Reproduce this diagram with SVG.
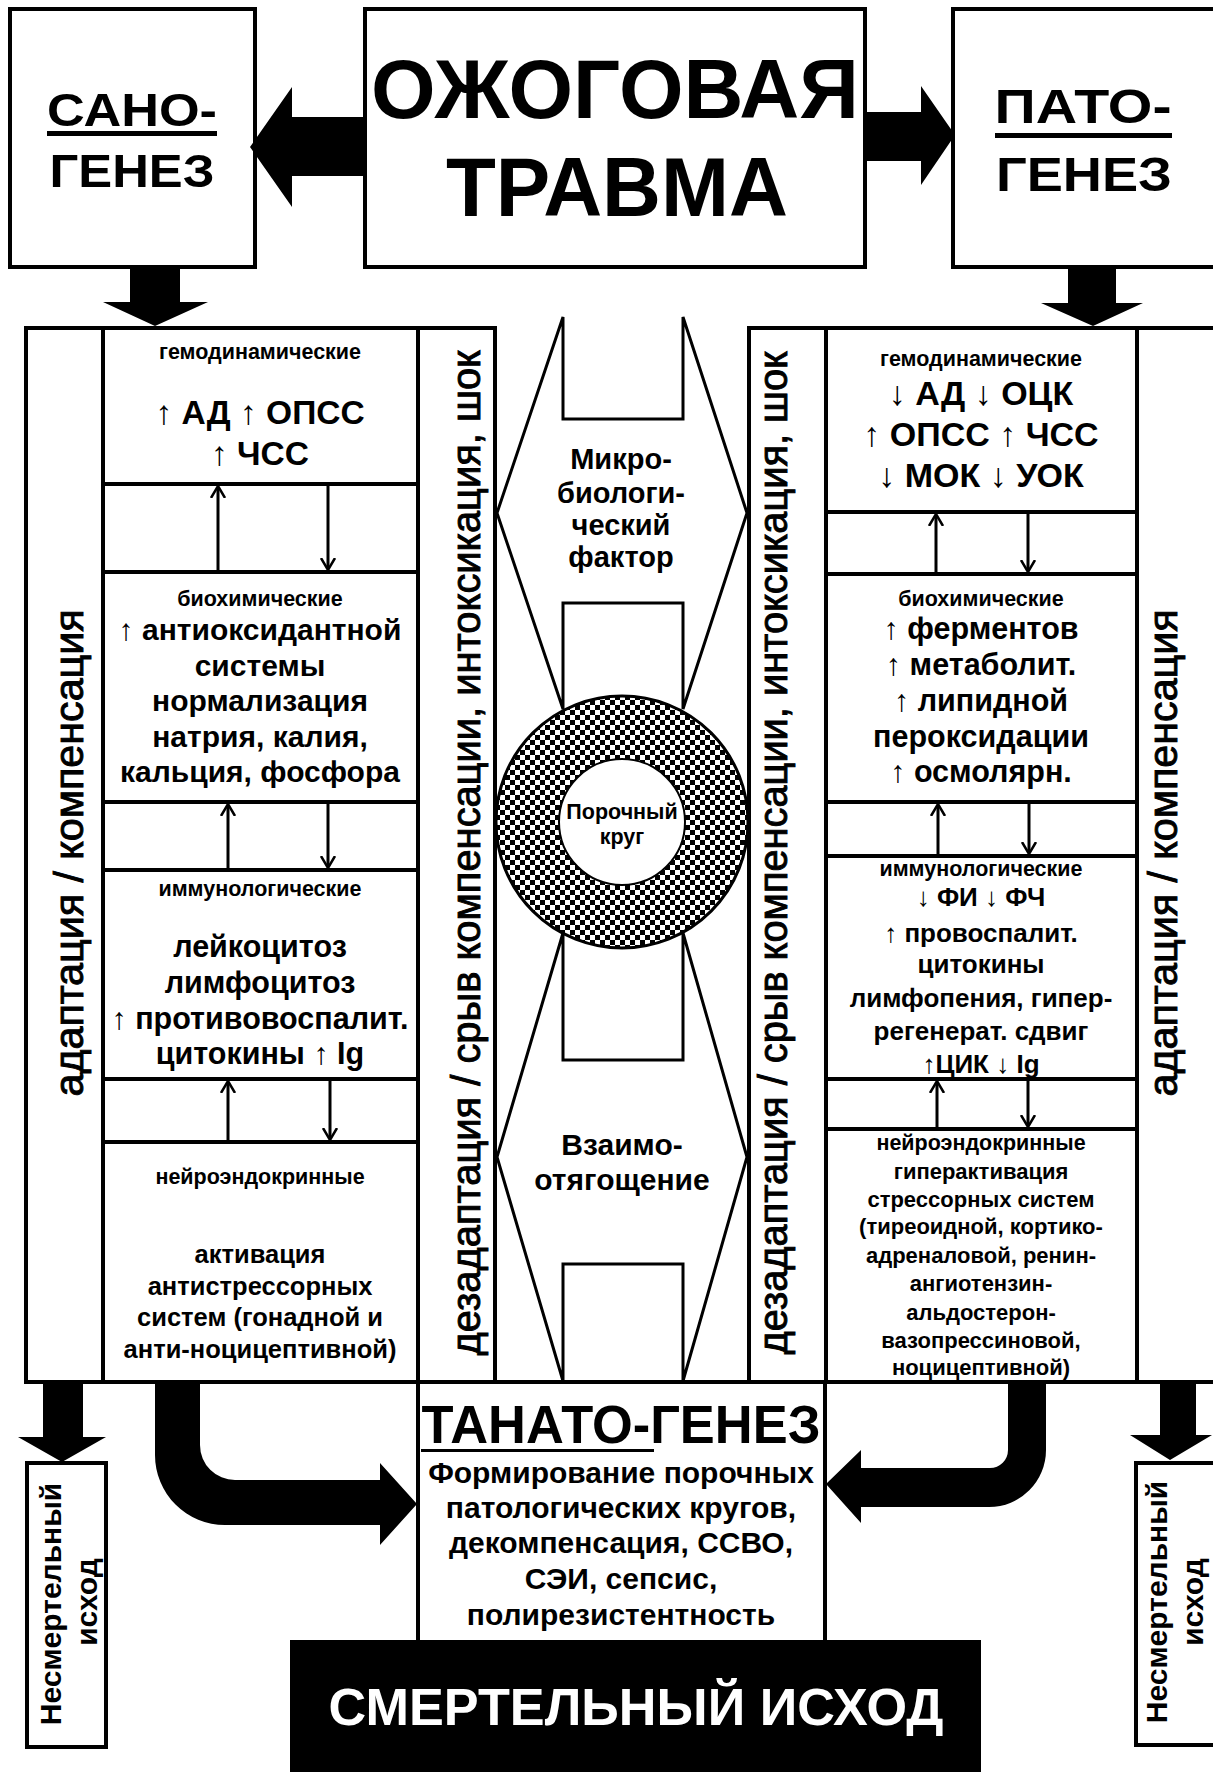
<svg xmlns="http://www.w3.org/2000/svg" width="1213" height="1772" viewBox="0 0 1213 1772">
<style>
text{font-family:"Liberation Sans",Arial,sans-serif;fill:#000;text-anchor:middle}
.b{font-weight:bold}
.lab{font-size:21.5px;font-weight:bold}
.box{fill:#fff;stroke:#000;stroke-width:4}
.ln{stroke:#000;stroke-width:4;fill:none}
.thin{stroke:#000;stroke-width:3;fill:none}
.ar{font-weight:normal}
.big{fill:#000}
.vt{font-size:40px;stroke:#000;stroke-width:0.9}
</style>
<defs>
<pattern id="chk" width="10" height="10" patternUnits="userSpaceOnUse">
<rect width="10" height="10" fill="#fff"/>
<rect width="5" height="5" fill="#000"/>
<rect x="5" y="5" width="5" height="5" fill="#000"/>
</pattern>
<marker id="ah" viewBox="0 0 12 20" refX="11" refY="10" markerWidth="12" markerHeight="20" markerUnits="userSpaceOnUse" orient="auto">
<path d="M0,3 L12,10 L0,17" fill="none" stroke="#000" stroke-width="2.5"/>
</marker>
</defs>
<rect width="1213" height="1772" fill="#fff"/>

<!-- top nodes -->
<g id="sanogenez">
<rect class="box" x="10" y="9" width="245" height="258"/>
<text class="b" x="132" y="126" font-size="47" textLength="170" lengthAdjust="spacingAndGlyphs">САНО-</text>
<rect x="47" y="131" width="170" height="5" fill="#000"/>
<text class="b" x="132" y="187" font-size="47" textLength="165" lengthAdjust="spacingAndGlyphs">ГЕНЕЗ</text>
</g>
<g id="trauma">
<rect class="box" x="365" y="9" width="500" height="258"/>
<text class="b" x="615" y="118" font-size="84" textLength="488" lengthAdjust="spacingAndGlyphs">ОЖОГОВАЯ</text>
<text class="b" x="617" y="216" font-size="84" textLength="342" lengthAdjust="spacingAndGlyphs">ТРАВМА</text>
</g>
<g id="patogenez">
<rect class="box" x="953" y="9" width="265" height="258"/>
<text class="b" x="1083" y="123" font-size="49" textLength="177" lengthAdjust="spacingAndGlyphs">ПАТО-</text>
<rect x="995" y="133" width="177" height="5" fill="#000"/>
<text class="b" x="1084" y="191" font-size="49" textLength="176" lengthAdjust="spacingAndGlyphs">ГЕНЕЗ</text>
</g>

<!-- center shapes -->
<g id="micro">
<polygon class="thin" fill="#fff" points="563,317 563,419 683,419 683,317 747,513 683,709 683,603 563,603 563,709 497,513"/>
<text class="b" x="621" y="469" font-size="29">Микро-</text>
<text class="b" x="621" y="503" font-size="29">биологи-</text>
<text class="b" x="621" y="535" font-size="29">ческий</text>
<text class="b" x="621" y="567" font-size="29">фактор</text>
</g>
<g id="vzaimo">
<polygon class="thin" fill="#fff" points="563,933 563,1060 683,1060 683,933 747,1157 683,1381 683,1264 563,1264 563,1381 497,1157"/>
<text class="b" x="622" y="1155" font-size="30">Взаимо-</text>
<text class="b" x="622" y="1190" font-size="30">отягощение</text>
</g>
<g id="porochny">
<circle cx="622" cy="822" r="126" fill="url(#chk)" stroke="#000" stroke-width="3"/>
<circle cx="622" cy="822" r="63" fill="#fff" stroke="#000" stroke-width="2"/>
<text class="b" x="622" y="819" font-size="21.5">Порочный</text>
<text class="b" x="622" y="844" font-size="21.5">круг</text>
</g>

<!-- left panel -->
<g id="left-panel">
<rect class="box" x="26" y="328" width="469" height="1054"/>
<line class="ln" x1="103" y1="328" x2="103" y2="1382"/>
<line class="ln" x1="418" y1="328" x2="418" y2="1382"/>
<text class="vt" transform="translate(83,853) rotate(-90)" textLength="487" lengthAdjust="spacingAndGlyphs">адаптация / компенсация</text>
<text class="vt" transform="translate(480,853) rotate(-90)" textLength="1005" lengthAdjust="spacingAndGlyphs">дезадаптация / срыв компенсации, интоксикация, шок</text>
</g>
<g id="left-hemo">
<line class="ln" x1="103" y1="484" x2="418" y2="484"/>
<text class="lab" x="260" y="359">гемодинамические</text>
<text class="b" x="260" y="424" font-size="33.5"><tspan class="ar">↑</tspan> АД <tspan class="ar">↑</tspan> ОПСС</text>
<text class="b" x="260" y="465" font-size="33.5"><tspan class="ar">↑</tspan> ЧСС</text>
</g>
<g id="left-bio">
<line class="ln" x1="103" y1="572" x2="418" y2="572"/>
<line class="ln" x1="103" y1="802" x2="418" y2="802"/>
<text class="lab" x="260" y="606">биохимические</text>
<text class="b" x="260" y="640" font-size="30"><tspan class="ar">↑</tspan> антиоксидантной</text>
<text class="b" x="260" y="676" font-size="30">системы</text>
<text class="b" x="260" y="711" font-size="30">нормализация</text>
<text class="b" x="260" y="747" font-size="30">натрия, калия,</text>
<text class="b" x="260" y="782" font-size="30">кальция, фосфора</text>
</g>
<g id="left-immuno">
<line class="ln" x1="103" y1="870" x2="418" y2="870"/>
<line class="ln" x1="103" y1="1079" x2="418" y2="1079"/>
<text class="lab" x="260" y="896">иммунологические</text>
<text class="b" x="260" y="957" font-size="30.5">лейкоцитоз</text>
<text class="b" x="260" y="993" font-size="30.5">лимфоцитоз</text>
<text class="b" x="260" y="1029" font-size="30.5"><tspan class="ar">↑</tspan> противовоспалит.</text>
<text class="b" x="260" y="1064" font-size="30.5">цитокины <tspan class="ar">↑</tspan> Ig</text>
</g>
<g id="left-neuro">
<line class="ln" x1="103" y1="1142" x2="418" y2="1142"/>
<text class="lab" x="260" y="1184">нейроэндокринные</text>
<text class="b" x="260" y="1263" font-size="25.5">активация</text>
<text class="b" x="260" y="1295" font-size="25.5">антистрессорных</text>
<text class="b" x="260" y="1326" font-size="25.5">систем (гонадной и</text>
<text class="b" x="260" y="1358" font-size="25.5">анти-ноцицептивной)</text>
</g>

<!-- right panel -->
<g id="right-panel">
<rect class="box" x="749" y="328" width="470" height="1054"/>
<line class="ln" x1="826" y1="328" x2="826" y2="1382"/>
<line class="ln" x1="1137" y1="328" x2="1137" y2="1382"/>
<text class="vt" transform="translate(787,853) rotate(-90)" textLength="1003" lengthAdjust="spacingAndGlyphs">дезадаптация / срыв компенсации, интоксикация, шок</text>
<text class="vt" transform="translate(1177,853) rotate(-90)" textLength="487" lengthAdjust="spacingAndGlyphs">адаптация / компенсация</text>
</g>
<g id="right-hemo">
<line class="ln" x1="826" y1="512" x2="1137" y2="512"/>
<text class="lab" x="981" y="366">гемодинамические</text>
<text class="b" x="981" y="405" font-size="34"><tspan class="ar">↓</tspan> АД <tspan class="ar">↓</tspan> ОЦК</text>
<text class="b" x="981" y="446" font-size="34"><tspan class="ar">↑</tspan> ОПСС <tspan class="ar">↑</tspan> ЧСС</text>
<text class="b" x="981" y="487" font-size="34"><tspan class="ar">↓</tspan> МОК <tspan class="ar">↓</tspan> УОК</text>
</g>
<g id="right-bio">
<line class="ln" x1="826" y1="574" x2="1137" y2="574"/>
<line class="ln" x1="826" y1="802" x2="1137" y2="802"/>
<text class="lab" x="981" y="606">биохимические</text>
<text class="b" x="981" y="639" font-size="30.5"><tspan class="ar">↑</tspan> ферментов</text>
<text class="b" x="981" y="675" font-size="30.5"><tspan class="ar">↑</tspan> метаболит.</text>
<text class="b" x="981" y="711" font-size="30.5"><tspan class="ar">↑</tspan> липидной</text>
<text class="b" x="981" y="747" font-size="30.5">пероксидации</text>
<text class="b" x="981" y="782" font-size="30.5"><tspan class="ar">↑</tspan> осмолярн.</text>
</g>
<g id="right-immuno">
<line class="ln" x1="826" y1="856" x2="1137" y2="856"/>
<line class="ln" x1="826" y1="1079" x2="1137" y2="1079"/>
<text class="lab" x="981" y="876">иммунологические</text>
<text class="b" x="981" y="906" font-size="26"><tspan class="ar">↓</tspan> ФИ <tspan class="ar">↓</tspan> ФЧ</text>
<text class="b" x="981" y="942" font-size="26"><tspan class="ar">↑</tspan> провоспалит.</text>
<text class="b" x="981" y="973" font-size="26">цитокины</text>
<text class="b" x="981" y="1007" font-size="26">лимфопения, гипер-</text>
<text class="b" x="981" y="1040" font-size="26">регенерат. сдвиг</text>
<text class="b" x="981" y="1073" font-size="26"><tspan class="ar">↑</tspan>ЦИК <tspan class="ar">↓</tspan> Ig</text>
</g>
<g id="right-neuro">
<line class="ln" x1="826" y1="1129" x2="1137" y2="1129"/>
<text class="lab" x="981" y="1150">нейроэндокринные</text>
<text class="b" x="981" y="1179" font-size="22">гиперактивация</text>
<text class="b" x="981" y="1207" font-size="22">стрессорных систем</text>
<text class="b" x="981" y="1234" font-size="22">(тиреоидной, кортико-</text>
<text class="b" x="981" y="1263" font-size="22">адреналовой, ренин-</text>
<text class="b" x="981" y="1291" font-size="22">ангиотензин-</text>
<text class="b" x="981" y="1320" font-size="22">альдостерон-</text>
<text class="b" x="981" y="1348" font-size="22">вазопрессиновой,</text>
<text class="b" x="981" y="1375" font-size="22">ноцицептивной)</text>
</g>

<!-- bottom nodes -->
<g id="tanatogenez">
<line class="ln" x1="26" y1="1382" x2="1213" y2="1382"/>
<line class="ln" x1="418" y1="1382" x2="418" y2="1640"/>
<line class="ln" x1="825" y1="1382" x2="825" y2="1640"/>
<text class="b" x="621" y="1443" font-size="54" textLength="399" lengthAdjust="spacingAndGlyphs">ТАНАТО-ГЕНЕЗ</text>
<rect x="421" y="1449" width="233" height="3" fill="#000"/>
<text class="b" x="621" y="1483" font-size="30">Формирование порочных</text>
<text class="b" x="621" y="1518" font-size="30">патологических кругов,</text>
<text class="b" x="621" y="1553" font-size="30">декомпенсация, ССВО,</text>
<text class="b" x="621" y="1589" font-size="30">СЭИ, сепсис,</text>
<text class="b" x="621" y="1625" font-size="30">полирезистентность</text>
</g>
<g id="death">
<rect x="290" y="1640" width="691" height="140" fill="#000"/>
<text class="b" x="636" y="1725" font-size="51" style="fill:#fff" textLength="615" lengthAdjust="spacingAndGlyphs">СМЕРТЕЛЬНЫЙ ИСХОД</text>
</g>
<g id="nonfatal-left">
<rect class="box" x="27" y="1463" width="79" height="284"/>
<text class="b" transform="translate(61,1604) rotate(-90)" font-size="30">Несмертельный</text>
<text class="b" transform="translate(97,1602) rotate(-90)" font-size="30">исход</text>
</g>
<g id="nonfatal-right">
<rect class="box" x="1136" y="1463" width="84" height="282"/>
<text class="b" transform="translate(1167,1602) rotate(-90)" font-size="30">Несмертельный</text>
<text class="b" transform="translate(1203,1602) rotate(-90)" font-size="30">исход</text>
</g>

<!-- connectors -->
<g id="connectors">
<polygon class="big" points="365,117 292,117 292,87 250,147 292,207 292,176 365,176"/>
<polygon class="big" points="865,112 921,112 921,86 955,135 921,185 921,161 865,161"/>
<polygon class="big" points="130,267 180,267 180,302 208,302 155,326 103,302 130,302"/>
<polygon class="big" points="1068,267 1116,267 1116,303 1143,303 1093,326 1041,303 1068,303"/>
<polygon class="big" points="43,1382 83,1382 83,1437 106,1437 62,1462 18,1437 43,1437"/>
<polygon class="big" points="1160,1382 1196,1382 1196,1435 1212,1435 1170,1460 1130,1435 1160,1435"/>
<path class="big" d="M155,1382 L155,1455 A70,70 0 0 0 225,1525 L380,1525 L380,1545 L417,1504 L380,1463 L380,1480 L235,1480 A35,35 0 0 1 200,1445 L200,1382 Z"/>
<path class="big" d="M1046,1382 L1046,1450 A57,57 0 0 1 989,1507 L861,1507 L861,1523 L826,1484 L861,1450 L861,1468 L990,1468 A18,18 0 0 0 1008,1450 L1008,1382 Z"/>
<line class="thin" x1="218" y1="572" x2="218" y2="487" marker-end="url(#ah)"/>
<line class="thin" x1="328" y1="484" x2="328" y2="569" marker-end="url(#ah)"/>
<line class="thin" x1="228" y1="870" x2="228" y2="805" marker-end="url(#ah)"/>
<line class="thin" x1="328" y1="802" x2="328" y2="867" marker-end="url(#ah)"/>
<line class="thin" x1="228" y1="1142" x2="228" y2="1082" marker-end="url(#ah)"/>
<line class="thin" x1="330" y1="1079" x2="330" y2="1139" marker-end="url(#ah)"/>
<line class="thin" x1="936" y1="574" x2="936" y2="515" marker-end="url(#ah)"/>
<line class="thin" x1="1028" y1="512" x2="1028" y2="571" marker-end="url(#ah)"/>
<line class="thin" x1="938" y1="856" x2="938" y2="805" marker-end="url(#ah)"/>
<line class="thin" x1="1029" y1="802" x2="1029" y2="853" marker-end="url(#ah)"/>
<line class="thin" x1="937" y1="1129" x2="937" y2="1082" marker-end="url(#ah)"/>
<line class="thin" x1="1028" y1="1079" x2="1028" y2="1126" marker-end="url(#ah)"/>
</g>
</svg>
